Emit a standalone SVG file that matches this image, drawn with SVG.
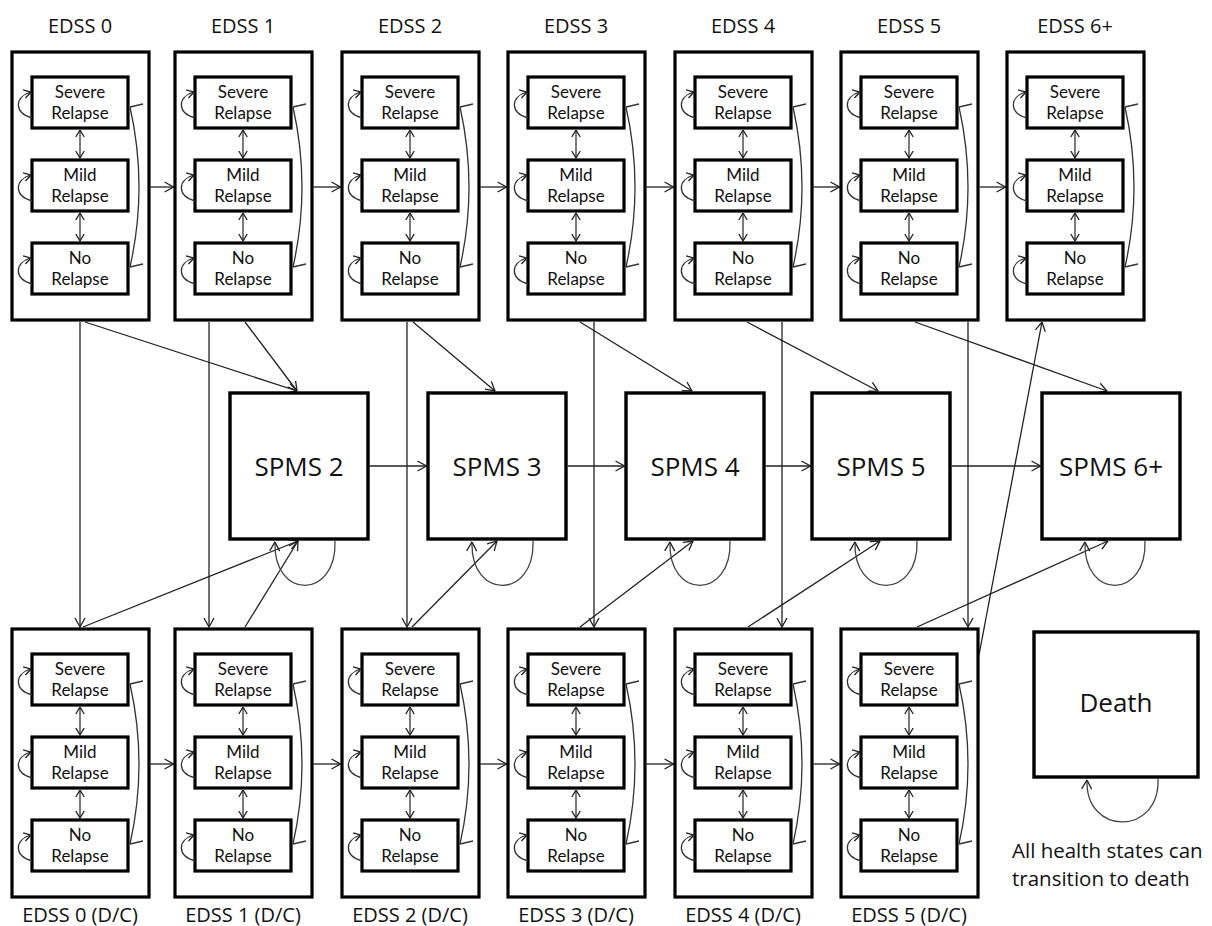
<svg xmlns="http://www.w3.org/2000/svg" xmlns:xlink="http://www.w3.org/1999/xlink" width="1212" height="926" viewBox="0 0 1212 926">
  <style>
    .outer { fill: #fff; stroke: #000; stroke-width: 3.2; }
    .inner { fill: #fff; stroke: #000; stroke-width: 3.2; }
    .big { fill: #fff; stroke: #000; stroke-width: 3.4; }
    .lbl { font-family: "Open Sans", "Noto Sans", sans-serif; font-size: 20px; fill: #111; text-anchor: middle; }
    .st { font-family: Lato, "Open Sans", sans-serif; font-size: 17px; fill: #111; text-anchor: middle; }
    .bigtxt { font-family: "Open Sans", "Noto Sans", sans-serif; font-size: 26px; fill: #111; text-anchor: middle; }
    .note { font-family: "Open Sans", "Noto Sans", sans-serif; font-size: 20.5px; fill: #111; }
    .edge { fill: none; stroke: #222; stroke-width: 1.3; marker-end: url(#arr); }
    .loop { fill: none; stroke: #444; stroke-width: 1.3; marker-end: url(#arr); }
    .thin { fill: none; stroke: #333; stroke-width: 1.3; }
    .dbl { marker-start: url(#arrs); marker-end: url(#arrs); }
    .self { marker-end: url(#arrs); }
  </style>
  <defs>
    <marker id="arr" viewBox="0 0 10 12" refX="9.5" refY="6" markerWidth="10" markerHeight="12" markerUnits="userSpaceOnUse" orient="auto-start-reverse">
      <path d="M0.5,1 L9.5,6 L0.5,11" fill="none" stroke="#222" stroke-width="1.3"/>
    </marker>
    <marker id="arrs" viewBox="0 0 8 10" refX="7.5" refY="5" markerWidth="8" markerHeight="10" markerUnits="userSpaceOnUse" orient="auto-start-reverse">
      <path d="M0.5,0.8 L7.5,5 L0.5,9.2" fill="none" stroke="#222" stroke-width="1.3"/>
    </marker>
    <!-- transitions inside one EDSS state, origin at the state's top-left corner -->
    <g id="inner-links" class="thin">
      <path class="dbl" d="M68,78 V106"/>
      <path class="dbl" d="M68,161 V189"/>
      <path class="self" d="M20,66 C2,61 2,45 19,40"/>
      <path class="self" d="M20,149 C2,144 2,128 19,123"/>
      <path class="self" d="M20,232 C2,227 2,211 19,206"/>
      <path d="M118,55 Q136,135 118,215"/>
      <path d="M118,55 l13,-3 M118,215 l13,-3"/>
    </g>
  </defs>

  <rect width="1212" height="926" fill="#fff"/>

  <!-- connectors -->
  <g id="connectors">
    <!-- EDSS progression, relapsing row -->
    <path class="edge" d="M150.5,187 H173.5"/>
    <path class="edge" d="M313.5,187 H340.5"/>
    <path class="edge" d="M480.5,187 H506.5"/>
    <path class="edge" d="M646.5,187 H673.5"/>
    <path class="edge" d="M813.5,187 H839.5"/>
    <path class="edge" d="M979.5,187 H1005.5"/>
    <!-- EDSS progression, discontinued row -->
    <path class="edge" d="M150.5,764 H173.5"/>
    <path class="edge" d="M313.5,764 H340.5"/>
    <path class="edge" d="M480.5,764 H506.5"/>
    <path class="edge" d="M646.5,764 H673.5"/>
    <path class="edge" d="M813.5,764 H839.5"/>
    <!-- SPMS progression -->
    <path class="edge" d="M369.5,466 H426.5"/>
    <path class="edge" d="M567.5,466 H624.5"/>
    <path class="edge" d="M765.5,466 H810.5"/>
    <path class="edge" d="M951.5,466 H1040.5"/>
    <!-- discontinuation -->
    <path class="edge" d="M80,322 V627"/>
    <path class="edge" d="M209,322 V627"/>
    <path class="edge" d="M407,322 V627"/>
    <path class="edge" d="M594,322 V627"/>
    <path class="edge" d="M782,322 V627"/>
    <path class="edge" d="M968,322 V627"/>
    <!-- relapsing states to SPMS -->
    <path class="edge" d="M85,322 L297,391"/>
    <path class="edge" d="M245,322 L297,391"/>
    <path class="edge" d="M413,322 L495,391"/>
    <path class="edge" d="M580,322 L692,391"/>
    <path class="edge" d="M747,322 L878,391"/>
    <path class="edge" d="M915,322 L1107,391"/>
    <!-- discontinued states to SPMS -->
    <path class="edge" d="M83,627 L298,541"/>
    <path class="edge" d="M245,627 L298,541"/>
    <path class="edge" d="M412,627 L497,541"/>
    <path class="edge" d="M580,627 L693,541"/>
    <path class="edge" d="M748,627 L880,541"/>
    <path class="edge" d="M917,627 L1108,541"/>
    <path class="edge" d="M979,655 L1042,322"/>
    <!-- remaining in SPMS / death -->
    <path class="loop" d="M335,541 C337,600 273,600 275,542"/>
    <path class="loop" d="M533,541 C535,600 470,600 472,542"/>
    <path class="loop" d="M730,541 C732,600 668,600 670,542"/>
    <path class="loop" d="M917,541 C919,600 853,600 855,542"/>
    <path class="loop" d="M1145,541 C1147,600 1083,600 1085,542"/>
    <path class="loop" d="M1158,779 C1160,836 1085,836 1087,780"/>
  </g>

  <!-- relapsing-remitting EDSS states -->
  <g id="edss-0">
    <rect class="outer" x="12" y="52" width="137" height="268"/>
    <text class="lbl" x="80" y="33">EDSS 0</text>
    <rect class="inner" x="32" y="77" width="96" height="51"/>
    <text class="st" x="80" y="98">Severe</text><text class="st" x="80" y="119">Relapse</text>
    <rect class="inner" x="32" y="160" width="96" height="51"/>
    <text class="st" x="80" y="181">Mild</text><text class="st" x="80" y="202">Relapse</text>
    <rect class="inner" x="32" y="243" width="96" height="51"/>
    <text class="st" x="80" y="264">No</text><text class="st" x="80" y="285">Relapse</text>
    <use href="#inner-links" xlink:href="#inner-links" x="12" y="52"/>
  </g>
  <g id="edss-1">
    <rect class="outer" x="175" y="52" width="137" height="268"/>
    <text class="lbl" x="243" y="33">EDSS 1</text>
    <rect class="inner" x="195" y="77" width="96" height="51"/>
    <text class="st" x="243" y="98">Severe</text><text class="st" x="243" y="119">Relapse</text>
    <rect class="inner" x="195" y="160" width="96" height="51"/>
    <text class="st" x="243" y="181">Mild</text><text class="st" x="243" y="202">Relapse</text>
    <rect class="inner" x="195" y="243" width="96" height="51"/>
    <text class="st" x="243" y="264">No</text><text class="st" x="243" y="285">Relapse</text>
    <use href="#inner-links" xlink:href="#inner-links" x="175" y="52"/>
  </g>
  <g id="edss-2">
    <rect class="outer" x="342" y="52" width="137" height="268"/>
    <text class="lbl" x="410" y="33">EDSS 2</text>
    <rect class="inner" x="362" y="77" width="96" height="51"/>
    <text class="st" x="410" y="98">Severe</text><text class="st" x="410" y="119">Relapse</text>
    <rect class="inner" x="362" y="160" width="96" height="51"/>
    <text class="st" x="410" y="181">Mild</text><text class="st" x="410" y="202">Relapse</text>
    <rect class="inner" x="362" y="243" width="96" height="51"/>
    <text class="st" x="410" y="264">No</text><text class="st" x="410" y="285">Relapse</text>
    <use href="#inner-links" xlink:href="#inner-links" x="342" y="52"/>
  </g>
  <g id="edss-3">
    <rect class="outer" x="508" y="52" width="137" height="268"/>
    <text class="lbl" x="576" y="33">EDSS 3</text>
    <rect class="inner" x="528" y="77" width="96" height="51"/>
    <text class="st" x="576" y="98">Severe</text><text class="st" x="576" y="119">Relapse</text>
    <rect class="inner" x="528" y="160" width="96" height="51"/>
    <text class="st" x="576" y="181">Mild</text><text class="st" x="576" y="202">Relapse</text>
    <rect class="inner" x="528" y="243" width="96" height="51"/>
    <text class="st" x="576" y="264">No</text><text class="st" x="576" y="285">Relapse</text>
    <use href="#inner-links" xlink:href="#inner-links" x="508" y="52"/>
  </g>
  <g id="edss-4">
    <rect class="outer" x="675" y="52" width="137" height="268"/>
    <text class="lbl" x="743" y="33">EDSS 4</text>
    <rect class="inner" x="695" y="77" width="96" height="51"/>
    <text class="st" x="743" y="98">Severe</text><text class="st" x="743" y="119">Relapse</text>
    <rect class="inner" x="695" y="160" width="96" height="51"/>
    <text class="st" x="743" y="181">Mild</text><text class="st" x="743" y="202">Relapse</text>
    <rect class="inner" x="695" y="243" width="96" height="51"/>
    <text class="st" x="743" y="264">No</text><text class="st" x="743" y="285">Relapse</text>
    <use href="#inner-links" xlink:href="#inner-links" x="675" y="52"/>
  </g>
  <g id="edss-5">
    <rect class="outer" x="841" y="52" width="137" height="268"/>
    <text class="lbl" x="909" y="33">EDSS 5</text>
    <rect class="inner" x="861" y="77" width="96" height="51"/>
    <text class="st" x="909" y="98">Severe</text><text class="st" x="909" y="119">Relapse</text>
    <rect class="inner" x="861" y="160" width="96" height="51"/>
    <text class="st" x="909" y="181">Mild</text><text class="st" x="909" y="202">Relapse</text>
    <rect class="inner" x="861" y="243" width="96" height="51"/>
    <text class="st" x="909" y="264">No</text><text class="st" x="909" y="285">Relapse</text>
    <use href="#inner-links" xlink:href="#inner-links" x="841" y="52"/>
  </g>
  <g id="edss-6plus">
    <rect class="outer" x="1007" y="52" width="137" height="268"/>
    <text class="lbl" x="1075" y="33">EDSS 6+</text>
    <rect class="inner" x="1027" y="77" width="96" height="51"/>
    <text class="st" x="1075" y="98">Severe</text><text class="st" x="1075" y="119">Relapse</text>
    <rect class="inner" x="1027" y="160" width="96" height="51"/>
    <text class="st" x="1075" y="181">Mild</text><text class="st" x="1075" y="202">Relapse</text>
    <rect class="inner" x="1027" y="243" width="96" height="51"/>
    <text class="st" x="1075" y="264">No</text><text class="st" x="1075" y="285">Relapse</text>
    <use href="#inner-links" xlink:href="#inner-links" x="1007" y="52"/>
  </g>

  <!-- secondary progressive states -->
  <g id="spms-2"><rect class="big" x="230" y="393" width="138" height="146"/><text class="bigtxt" x="299" y="476">SPMS 2</text></g>
  <g id="spms-3"><rect class="big" x="428" y="393" width="138" height="146"/><text class="bigtxt" x="497" y="476">SPMS 3</text></g>
  <g id="spms-4"><rect class="big" x="626" y="393" width="138" height="146"/><text class="bigtxt" x="695" y="476">SPMS 4</text></g>
  <g id="spms-5"><rect class="big" x="812" y="393" width="138" height="146"/><text class="bigtxt" x="881" y="476">SPMS 5</text></g>
  <g id="spms-6plus"><rect class="big" x="1042" y="393" width="138" height="146"/><text class="bigtxt" x="1111" y="476">SPMS 6+</text></g>

  <!-- discontinued-treatment EDSS states -->
  <g id="edss-0-dc">
    <rect class="outer" x="12" y="629" width="137" height="268"/>
    <text class="lbl" x="80" y="922">EDSS 0 (D/C)</text>
    <rect class="inner" x="32" y="654" width="96" height="51"/>
    <text class="st" x="80" y="675">Severe</text><text class="st" x="80" y="696">Relapse</text>
    <rect class="inner" x="32" y="737" width="96" height="51"/>
    <text class="st" x="80" y="758">Mild</text><text class="st" x="80" y="779">Relapse</text>
    <rect class="inner" x="32" y="820" width="96" height="51"/>
    <text class="st" x="80" y="841">No</text><text class="st" x="80" y="862">Relapse</text>
    <use href="#inner-links" xlink:href="#inner-links" x="12" y="629"/>
  </g>
  <g id="edss-1-dc">
    <rect class="outer" x="175" y="629" width="137" height="268"/>
    <text class="lbl" x="243" y="922">EDSS 1 (D/C)</text>
    <rect class="inner" x="195" y="654" width="96" height="51"/>
    <text class="st" x="243" y="675">Severe</text><text class="st" x="243" y="696">Relapse</text>
    <rect class="inner" x="195" y="737" width="96" height="51"/>
    <text class="st" x="243" y="758">Mild</text><text class="st" x="243" y="779">Relapse</text>
    <rect class="inner" x="195" y="820" width="96" height="51"/>
    <text class="st" x="243" y="841">No</text><text class="st" x="243" y="862">Relapse</text>
    <use href="#inner-links" xlink:href="#inner-links" x="175" y="629"/>
  </g>
  <g id="edss-2-dc">
    <rect class="outer" x="342" y="629" width="137" height="268"/>
    <text class="lbl" x="410" y="922">EDSS 2 (D/C)</text>
    <rect class="inner" x="362" y="654" width="96" height="51"/>
    <text class="st" x="410" y="675">Severe</text><text class="st" x="410" y="696">Relapse</text>
    <rect class="inner" x="362" y="737" width="96" height="51"/>
    <text class="st" x="410" y="758">Mild</text><text class="st" x="410" y="779">Relapse</text>
    <rect class="inner" x="362" y="820" width="96" height="51"/>
    <text class="st" x="410" y="841">No</text><text class="st" x="410" y="862">Relapse</text>
    <use href="#inner-links" xlink:href="#inner-links" x="342" y="629"/>
  </g>
  <g id="edss-3-dc">
    <rect class="outer" x="508" y="629" width="137" height="268"/>
    <text class="lbl" x="576" y="922">EDSS 3 (D/C)</text>
    <rect class="inner" x="528" y="654" width="96" height="51"/>
    <text class="st" x="576" y="675">Severe</text><text class="st" x="576" y="696">Relapse</text>
    <rect class="inner" x="528" y="737" width="96" height="51"/>
    <text class="st" x="576" y="758">Mild</text><text class="st" x="576" y="779">Relapse</text>
    <rect class="inner" x="528" y="820" width="96" height="51"/>
    <text class="st" x="576" y="841">No</text><text class="st" x="576" y="862">Relapse</text>
    <use href="#inner-links" xlink:href="#inner-links" x="508" y="629"/>
  </g>
  <g id="edss-4-dc">
    <rect class="outer" x="675" y="629" width="137" height="268"/>
    <text class="lbl" x="743" y="922">EDSS 4 (D/C)</text>
    <rect class="inner" x="695" y="654" width="96" height="51"/>
    <text class="st" x="743" y="675">Severe</text><text class="st" x="743" y="696">Relapse</text>
    <rect class="inner" x="695" y="737" width="96" height="51"/>
    <text class="st" x="743" y="758">Mild</text><text class="st" x="743" y="779">Relapse</text>
    <rect class="inner" x="695" y="820" width="96" height="51"/>
    <text class="st" x="743" y="841">No</text><text class="st" x="743" y="862">Relapse</text>
    <use href="#inner-links" xlink:href="#inner-links" x="675" y="629"/>
  </g>
  <g id="edss-5-dc">
    <rect class="outer" x="841" y="629" width="137" height="268"/>
    <text class="lbl" x="909" y="922">EDSS 5 (D/C)</text>
    <rect class="inner" x="861" y="654" width="96" height="51"/>
    <text class="st" x="909" y="675">Severe</text><text class="st" x="909" y="696">Relapse</text>
    <rect class="inner" x="861" y="737" width="96" height="51"/>
    <text class="st" x="909" y="758">Mild</text><text class="st" x="909" y="779">Relapse</text>
    <rect class="inner" x="861" y="820" width="96" height="51"/>
    <text class="st" x="909" y="841">No</text><text class="st" x="909" y="862">Relapse</text>
    <use href="#inner-links" xlink:href="#inner-links" x="841" y="629"/>
  </g>

  <!-- absorbing state -->
  <g id="death">
    <rect class="big" x="1034" y="632" width="164" height="145"/>
    <text class="bigtxt" x="1116" y="712">Death</text>
  </g>
  <g id="death-note">
    <text class="note" x="1012" y="858">All health states can</text>
    <text class="note" x="1012" y="886">transition to death</text>
  </g>
</svg>
